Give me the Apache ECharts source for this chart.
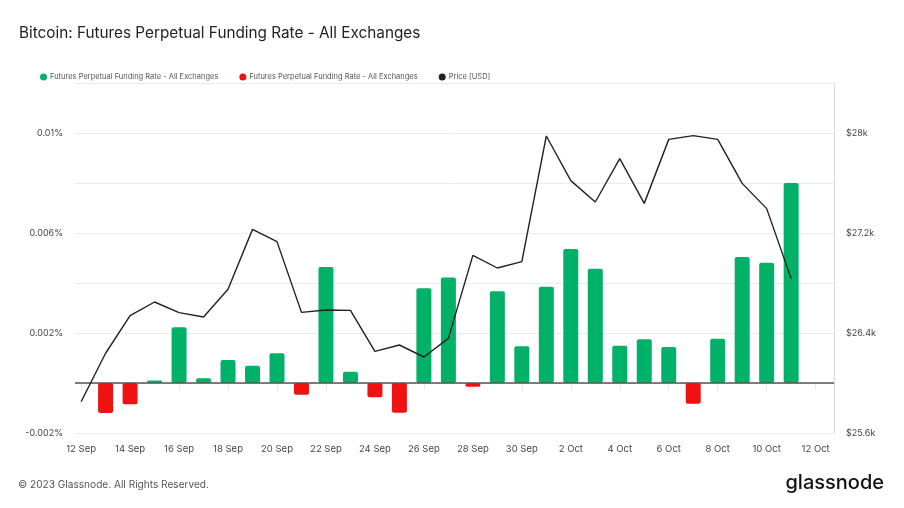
<!DOCTYPE html>
<html>
<head>
<meta charset="utf-8">
<script src="https://cdn.jsdelivr.net/npm/echarts@6/dist/echarts.min.js"></script>
<style>
html,body{margin:0;padding:0;background:#fff;}
#chart{width:904px;height:508px;}
</style>
</head>
<body>
<div id="chart"></div>
<script>
// Days (x index 0 = 12 Sep)
var days = ['12 Sep','13 Sep','14 Sep','15 Sep','16 Sep','17 Sep','18 Sep','19 Sep','20 Sep','21 Sep',
  '22 Sep','23 Sep','24 Sep','25 Sep','26 Sep','27 Sep','28 Sep','29 Sep','30 Sep','1 Oct',
  '2 Oct','3 Oct','4 Oct','5 Oct','6 Oct','7 Oct','8 Oct','9 Oct','10 Oct','11 Oct'];
// Funding rate (%)
var funding = [null, -0.0012, -0.00085, 0.0001, 0.00223, 0.00019, 0.00092, 0.00069, 0.00119, -0.00047,
  0.00464, 0.00045, -0.00057, -0.00119, 0.00379, 0.00422, -0.00015, 0.00367, 0.00147, 0.00385,
  0.00536, 0.00457, 0.00149, 0.00175, 0.00144, -0.00083, 0.00177, 0.00504, 0.00481, 0.0080];
// Price (USD)
var price = [25850, 26238, 26539, 26648, 26563, 26528, 26750, 27229, 27131, 26565,
  26584, 26581, 26253, 26304, 26208, 26357, 27021, 26920, 26971, 27976,
  27619, 27448, 27795, 27437, 27949, 27979, 27949, 27597, 27395, 26835];
// X tick labels (every 2 days)
var xTickLabels = ['12 Sep','14 Sep','16 Sep','18 Sep','20 Sep','22 Sep','24 Sep','26 Sep','28 Sep','30 Sep',
  '2 Oct','4 Oct','6 Oct','8 Oct','10 Oct','12 Oct'];
var seriesNames = ['Futures Perpetual Funding Rate - All Exchanges','Futures Perpetual Funding Rate - All Exchanges','Price [USD]'];

var tickPositions = xTickLabels.map(function(_, i){ return i * 2; });
var posData = [], negData = [], priceData = [];
funding.forEach(function(v, i){
  if (v === null) return;
  if (v >= 0) posData.push([i, v]); else negData.push([i, v]);
});
price.forEach(function(v, i){ priceData.push([i, v]); });

var FONT = 'Inter, "Noto Sans", sans-serif';
var chart = echarts.init(document.getElementById('chart'), null, {renderer: 'canvas'});
var legendNames = {pos: seriesNames[0], neg: seriesNames[1], price: seriesNames[2]};
chart.setOption({
  animation: false,
  backgroundColor: '#fff',
  title: {
    text: 'Bitcoin: Futures Perpetual Funding Rate - All Exchanges',
    left: 14, top: 21,
    textStyle: {fontFamily: FONT, fontSize: 15.3, fontWeight: 'normal', color: '#222'}
  },
  legend: {
    left: 35, top: 68,
    icon: 'circle', itemWidth: 7, itemHeight: 7, itemGap: 21,
    data: ['pos','neg','price'],
    formatter: function(n){ return legendNames[n]; },
    textStyle: {fontFamily: FONT, fontSize: 7.5, color: '#555', padding: [0,0,0,-2]}
  },
  grid: {left: 75, right: 70, top: 83, bottom: 75, containLabel: false},
  xAxis: {
    type: 'value', min: -0.25, max: 30.75,
    splitLine: {show: false},
    axisLine: {show: true, lineStyle: {color: '#e6e6e6'}},
    axisTick: {show: true, length: 7, lineStyle: {color: '#e6e6e6'}, customValues: tickPositions},
    axisLabel: {
      customValues: tickPositions, margin: 11,
      fontFamily: FONT, fontSize: 9.5, color: '#444',
      formatter: function(v){ return xTickLabels[Math.round(v / 2)] || ''; }
    }
  },
  yAxis: [{
    type: 'value', min: -0.002, max: 0.012, interval: 0.002, position: 'left',
    axisLine: {show: false}, axisTick: {show: false},
    splitLine: {lineStyle: {color: '#ebebeb'}},
    axisLabel: {
      margin: 12, fontFamily: FONT, fontSize: 9, color: '#444',
      formatter: function(v){
        var k = Math.round((v + 0.002) / 0.002);
        if (k % 2 !== 0) return '';
        return parseFloat(v.toFixed(4)) + '%';
      }
    }
  }, {
    type: 'value', min: 25600, max: 28400, interval: 400, position: 'right',
    axisLine: {show: true, lineStyle: {color: '#d9d9d9'}}, axisTick: {show: false},
    splitLine: {show: false},
    axisLabel: {
      margin: 12, fontFamily: FONT, fontSize: 9, color: '#444',
      formatter: function(v){
        var k = Math.round((v - 25600) / 400);
        if (k % 2 !== 0) return '';
        return '$' + parseFloat((v / 1000).toFixed(1)) + 'k';
      }
    }
  }],
  series: [{
    name: 'pos', type: 'bar', data: posData, barWidth: 15, barGap: '-100%',
    itemStyle: {color: '#00b167', borderRadius: 2},
    markLine: {
      silent: true, symbol: 'none', label: {show: false},
      lineStyle: {color: '#555', width: 1.5, type: 'solid'},
      data: [{yAxis: 0}]
    }
  }, {
    name: 'neg', type: 'bar', data: negData, barWidth: 15, barGap: '-100%',
    itemStyle: {color: '#ee1212', borderRadius: 2}
  }, {
    name: 'price', type: 'line', yAxisIndex: 1, data: priceData,
    symbol: 'none', lineStyle: {color: '#222', width: 1.4}, itemStyle: {color: '#222'}, z: 5
  }],
  graphic: [{
    type: 'text', left: 18, top: 480,
    style: {text: '© 2023 Glassnode. All Rights Reserved.', fontFamily: FONT, fontSize: 10.1, fill: '#555'}
  }, {
    type: 'text', right: 20, top: 473,
    style: {text: 'glassnode', fontFamily: FONT, fontSize: 20, fontWeight: 500, fill: '#111'}
  }]
});
</script>
</body>
</html>
